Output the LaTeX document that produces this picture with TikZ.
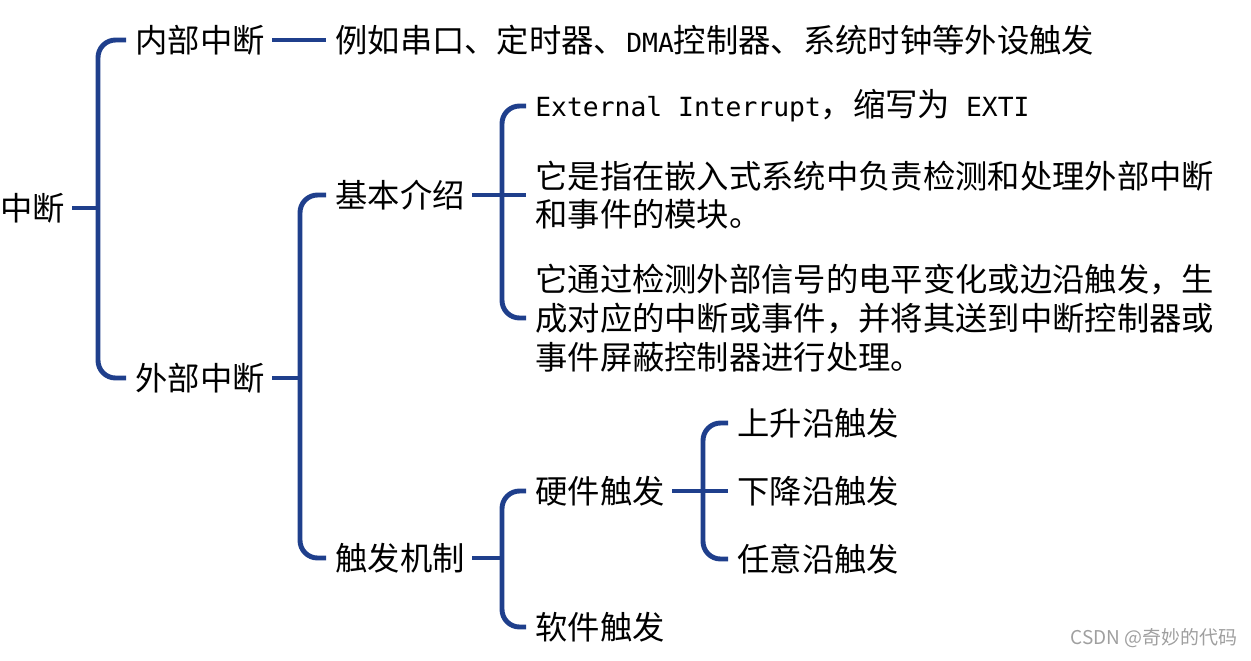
\documentclass[tikz,border=0pt]{standalone}
\usepackage{fontspec}
\setmainfont{Noto Sans CJK SC}
\newfontfamily\latinmono{DejaVu Sans Mono}
\definecolor{branchblue}{RGB}{31,63,140}
\tikzset{
  branch/.style={draw=branchblue, line width=2.8pt, rounded corners=10pt},
  topic/.style={anchor=west, inner sep=0pt, align=left, font=\fontsize{18.4pt}{22pt}\selectfont},
}
\newcommand{\mn}[1]{{\latinmono\fontsize{15pt}{22pt}\selectfont #1}}

\begin{document}
\begin{tikzpicture}[x=0.02cm, y=-0.02cm]
\useasboundingbox (0,0) rectangle (1251,660);

% stems
\coordinate (s1) at (98,0);
\coordinate (s2) at (300,0);
\coordinate (s3) at (502,0);
\coordinate (s5) at (703,0);

% left side
\node [topic] (zd) at (0,208) {中断};
\node [topic] (nb) at (135,40) {内部中断};
\node [topic] (wb) at (135,378) {外部中断};
\node [topic] (nbeg) at (335,40) {例如串口、定时器、\mn{DMA}控制器、系统时钟等外设触发};

% basic introduction
\node [topic] (jb) at (335,195) {基本介绍};
\node [topic] (ex) at (535,106) {\mn{External Interrupt}，缩写为\mn{\ EXTI}};
\node [topic] (d1) at (535,195) {它是指在嵌入式系统中负责检测和处理外部中断\\和事件的模块。};
\node [topic] (d2) at (535,318) {它通过检测外部信号的电平变化或边沿触发，生\\成对应的中断或事件，并将其送到中断控制器或\\事件屏蔽控制器进行处理。};

% trigger
\node [topic] (jz) at (335,558) {触发机制};
\node [topic] (yj) at (535,491) {硬件触发};
\node [topic] (rj) at (535,627) {软件触发};
\node [topic] (ss) at (737,423) {上升沿触发};
\node [topic] (xj) at (737,491) {下降沿触发};
\node [topic] (ry) at (737,559) {任意沿触发};

\node [anchor=east, inner sep=0pt, text=gray!75, font=\fontsize{10.8pt}{12pt}\selectfont] (wm) at (1238,638) {CSDN @奇妙的代码};

% branches
\draw [branch] ([xshift=4pt]zd.east) -- (s1 |- zd.west);
\draw [branch] ([xshift=-5pt]nb.west) -| (s1 |- zd.west) |- ([xshift=-5pt]wb.west);
\draw [branch] ([xshift=4pt]nb.east) -- ([xshift=-5pt]nbeg.west);

\draw [branch] ([xshift=4pt]wb.east) -- (s2 |- wb.west);
\draw [branch] ([xshift=-5pt]jb.west) -| (s2 |- wb.west) |- ([xshift=-5pt]jz.west);

\draw [branch] ([xshift=4pt]jb.east) -- ([xshift=-5pt]d1.west);
\draw [branch] ([xshift=-5pt]ex.west) -| (s3 |- d1.west) |- ([xshift=-5pt]d2.west);

\draw [branch] ([xshift=4pt]jz.east) -- (s3 |- jz.west);
\draw [branch] ([xshift=-5pt]yj.west) -| (s3 |- jz.west) |- ([xshift=-5pt]rj.west);

\draw [branch] ([xshift=4pt]yj.east) -- ([xshift=-5pt]xj.west);
\draw [branch] ([xshift=-5pt]ss.west) -| (s5 |- xj.west) |- ([xshift=-5pt]ry.west);
\end{tikzpicture}
\end{document}
